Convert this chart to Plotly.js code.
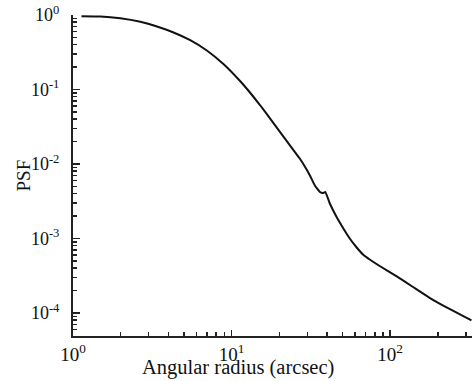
<!DOCTYPE html>
<html>
<head>
<meta charset="utf-8">
<script src="https://cdn.plot.ly/plotly-3.0.1.min.js"></script>
<style>html,body{margin:0;padding:0;background:#fff;}#chart{width:472px;height:381px;}</style>
</head>
<body>
<div id="chart"></div>
<script>
// Angular radius (arcsec)
const radius = [1.131, 1.489, 1.990, 2.658, 3.385, 4.305, 5.483, 6.982, 8.880, 11.31, 13.06, 15.10, 17.46, 20.18, 23.33, 26.98, 29.72, 31.18, 33.50, 36.06, 37.67, 39.0, 41.65, 45.41, 50.25, 55.6, 61.5, 67.4, 74.3, 85.9, 109.4, 138.5, 177.2, 236.7, 325.6];
// PSF values
const psf = [0.9636, 0.9547, 0.903, 0.810, 0.7008, 0.5823, 0.459, 0.3339, 0.2199, 0.1300, 0.0911, 0.0619, 0.04106, 0.02705, 0.01782, 0.01174, 0.008437, 0.007008, 0.005144, 0.004208, 0.004079, 0.004208, 0.002950, 0.002035, 0.001405, 0.001, 0.000757, 0.00061, 0.000522, 0.000427, 0.000312, 0.000225, 0.00016, 0.0001132, 0.0000793];

const xTickVals = [1, 10, 100];
const xTickText = ['10<sup>0</sup>', '10<sup>1</sup>', '10<sup>2</sup>'];
const xMinorVals = [2, 3, 4, 5, 6, 7, 8, 9, 20, 30, 40, 50, 60, 70, 80, 90, 200, 300];
const yTickVals = [1, 0.1, 0.01, 0.001, 0.0001];
const yTickText = ['10<sup>0</sup>', '10<sup>-1</sup>', '10<sup>-2</sup>', '10<sup>-3</sup>', '10<sup>-4</sup>'];
const yMinorVals = [0.9, 0.8, 0.7, 0.6, 0.5, 0.4, 0.3, 0.2, 0.09, 0.08, 0.07, 0.06, 0.05, 0.04, 0.03, 0.02, 0.009, 0.008, 0.007, 0.006, 0.005, 0.004, 0.003, 0.002, 0.0009, 0.0008, 0.0007, 0.0006, 0.0005, 0.0004, 0.0003, 0.0002, 0.00009, 0.00008, 0.00007, 0.00006];
const xTitle = 'Angular radius (arcsec)';
const yTitle = 'PSF';

const serif = 'Liberation Serif';
const axisColor = '#222';

Plotly.newPlot('chart', [{
  x: radius,
  y: psf,
  type: 'scatter',
  mode: 'lines',
  line: {color: '#111', width: 2, shape: 'spline', smoothing: 0.3},
  hoverinfo: 'skip'
}], {
  width: 472,
  height: 381,
  margin: {l: 73, r: 0, t: 15, b: 45},
  paper_bgcolor: '#fff',
  plot_bgcolor: '#fff',
  showlegend: false,
  font: {family: serif, color: '#111'},
  xaxis: {
    type: 'log',
    range: [0, 2.516],
    showgrid: false,
    zeroline: false,
    showline: true,
    linecolor: axisColor,
    linewidth: 2,
    ticks: 'inside',
    ticklen: 6,
    tickwidth: 1.5,
    tickcolor: axisColor,
    tickvals: xTickVals,
    ticktext: xTickText,
    tickfont: {family: serif, size: 19, color: '#111'},
    ticklabelstandoff: 0,
    minor: {ticks: 'inside', ticklen: 4, tickwidth: 1.5, tickcolor: axisColor, tickvals: xMinorVals},
    automargin: false
  },
  yaxis: {
    type: 'log',
    range: [-4.309, 0],
    showgrid: false,
    zeroline: false,
    showline: true,
    linecolor: axisColor,
    linewidth: 2,
    ticks: 'inside',
    ticklen: 7,
    tickwidth: 1.5,
    tickcolor: axisColor,
    tickvals: yTickVals,
    ticktext: yTickText,
    tickfont: {family: serif, size: 18, color: '#111'},
    ticklabelstandoff: 8,
    minor: {ticks: 'inside', ticklen: 4, tickwidth: 1.5, tickcolor: axisColor, tickvals: yMinorVals},
    automargin: false
  },
  annotations: [
    {text: xTitle, xref: 'paper', yref: 'paper', x: 0.4135, y: 0, xanchor: 'center', yanchor: 'middle', yshift: -31,
     showarrow: false, font: {family: serif, size: 20.5, color: '#111'}},
    {text: yTitle, xref: 'paper', yref: 'paper', x: -0.1253, y: 0.5, xanchor: 'center', yanchor: 'middle', textangle: -90,
     showarrow: false, font: {family: serif, size: 19, color: '#111'}}
  ]
}, {displayModeBar: false, staticPlot: true});
</script>
</body>
</html>
